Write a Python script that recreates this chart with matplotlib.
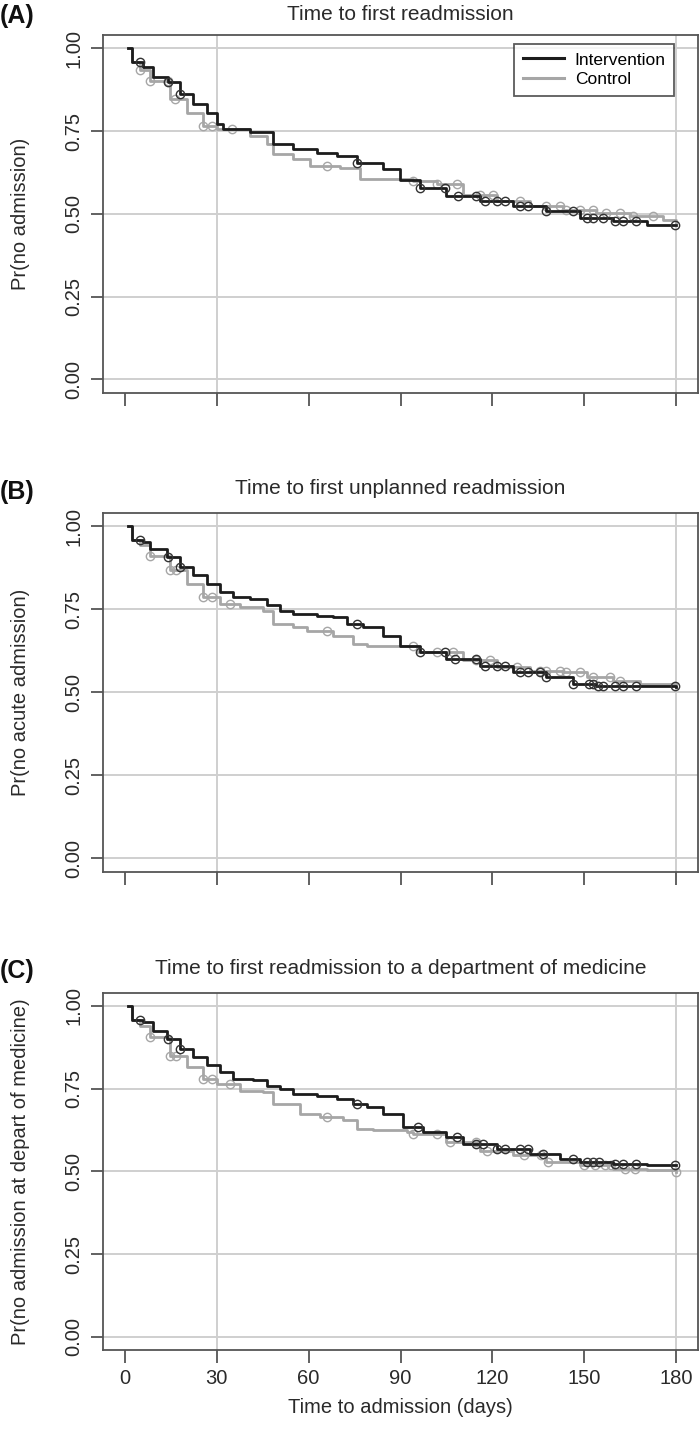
import numpy as np
import matplotlib
matplotlib.use("Agg")
import matplotlib.pyplot as plt

plt.rcParams['font.family'] = ['Liberation Sans', 'DejaVu Sans']

# ---- data (days, survival) ----
titles = ["Time to first readmission",
          "Time to first unplanned readmission",
          "Time to first readmission to a department of medicine"]
ylabels = ["Pr(no admission)",
           "Pr(no acute admission)",
           "Pr(no admission at depart of medicine)"]
panel_tags = ["(A)", "(B)", "(C)"]
series_names = ["Intervention", "Control"]
xticks = [0, 30, 60, 90, 120, 150, 180]
yticks = [0.00, 0.25, 0.50, 0.75, 1.00]

# panel A
a_int_t = [1, 2.2, 6, 9.2, 14.1, 18, 22.3, 26.7, 30, 32.1, 40.8, 48.4, 55, 62.6, 69.1, 75.7,
           84.4, 89.8, 96.3, 105, 115.9, 126.8, 137.7, 148.6, 159.5, 170.4, 180]
a_int_s = [1.0, 0.958, 0.943, 0.913, 0.897, 0.862, 0.832, 0.806, 0.771, 0.756, 0.746, 0.710,
           0.695, 0.685, 0.675, 0.655, 0.634, 0.601, 0.578, 0.553, 0.538, 0.523, 0.508, 0.488,
           0.477, 0.467, 0.467]
a_ctl_t = [1, 2.2, 5, 8.2, 14.7, 20.1, 25.6, 30, 40.8, 46.3, 48.4, 55, 60.4, 70.2, 76.7, 87.6,
           94.2, 101.8, 110.5, 121.4, 132.3, 143.1, 154, 164.9, 175.8, 180]
a_ctl_s = [1.0, 0.958, 0.935, 0.902, 0.847, 0.806, 0.766, 0.756, 0.735, 0.710, 0.680, 0.665,
           0.644, 0.639, 0.604, 0.604, 0.599, 0.589, 0.558, 0.538, 0.523, 0.513, 0.503, 0.493,
           0.482, 0.475]
a_int_cens = [4.9, 14.1, 18, 75.7, 96.3, 104.5, 108.9, 114.8, 117.6, 121.4, 124.1, 129, 131.7,
              137.7, 146.4, 150.8, 152.9, 156.2, 160, 162.7, 167.1, 179.6]
a_ctl_cens = [5, 8.2, 14, 16.3, 25.6, 28.3, 34.8, 65.9, 94.2, 101.8, 108.3, 115.9, 120.3, 129,
              137.7, 142, 144.2, 148.6, 152.9, 157.3, 161.6, 166, 172.6]

# panel B
b_int_t = [1, 2.2, 6, 8.2, 13.6, 18, 22.3, 26.7, 31, 35.4, 40.8, 46.3, 50.6, 55, 62.6, 68, 72.4,
           77.8, 84.4, 89.8, 96.3, 105, 115.9, 126.8, 137.7, 146.4, 154, 170.4, 180]
b_int_s = [1.0, 0.958, 0.953, 0.933, 0.908, 0.877, 0.852, 0.827, 0.802, 0.787, 0.782, 0.762,
           0.746, 0.736, 0.731, 0.727, 0.706, 0.696, 0.671, 0.641, 0.621, 0.601, 0.580, 0.560,
           0.545, 0.525, 0.518, 0.518, 0.515]
b_ctl_t = [1, 2.2, 5, 8.2, 14.7, 20.1, 25.6, 31, 37.6, 45.2, 48.4, 55, 59.3, 68, 74.6, 78.9, 92,
           95.3, 101.8, 110.5, 121.4, 132.3, 143.1, 150.8, 159.5, 168.2, 180]
b_ctl_s = [1.0, 0.958, 0.945, 0.912, 0.867, 0.827, 0.787, 0.767, 0.757, 0.746, 0.706, 0.696,
           0.686, 0.671, 0.646, 0.641, 0.641, 0.621, 0.621, 0.596, 0.576, 0.565, 0.560, 0.545,
           0.535, 0.525, 0.520]
b_int_cens = [5, 14, 18, 75.7, 96.3, 104.5, 107.9, 114.8, 117.6, 121.4, 124.1, 129, 131.7, 135.6,
              137.7, 146.4, 151.5, 152.9, 154.5, 156.2, 160, 162.7, 167.1, 179.6]
b_ctl_cens = [8.2, 14.7, 16.6, 25.6, 28.3, 34.4, 66, 94.2, 101.8, 107.3, 114.8, 119.2, 128, 135.6,
              137.7, 142, 144.2, 148.6, 152.9, 158.4, 161.6]

# panel C
c_int_t = [1, 2.2, 6, 9.2, 13.6, 18, 22.3, 26.7, 31, 35.4, 41.9, 46.3, 50.6, 55, 62.6, 69.1, 74.6,
           78.9, 84.4, 90.9, 97.4, 105, 110.5, 121.4, 132.3, 142, 148.6, 159.5, 170.4, 180]
c_int_s = [1.0, 0.956, 0.951, 0.925, 0.900, 0.870, 0.845, 0.820, 0.800, 0.780, 0.775, 0.759,
           0.749, 0.734, 0.729, 0.719, 0.704, 0.694, 0.674, 0.634, 0.619, 0.604, 0.583, 0.568,
           0.553, 0.538, 0.528, 0.523, 0.518, 0.518]
c_ctl_t = [1, 2.2, 5, 8.2, 14.7, 20.1, 25.6, 30, 37.6, 45.2, 48.4, 57.2, 63.7, 71.3, 75.7, 81.1,
           92, 94.2, 105, 116, 126.8, 137.7, 148.6, 159.5, 170.4, 180]
c_ctl_s = [1.0, 0.956, 0.940, 0.906, 0.850, 0.815, 0.780, 0.765, 0.744, 0.740, 0.704, 0.674,
           0.664, 0.654, 0.629, 0.624, 0.619, 0.614, 0.589, 0.563, 0.548, 0.528, 0.518, 0.508,
           0.503, 0.497]
c_int_cens = [5, 14, 18, 75.7, 95.8, 108.3, 114.8, 117, 121.4, 124.1, 129, 131.7, 136.6, 146.4,
              150.8, 152.9, 154.9, 160, 162.7, 167.1, 179.6]
c_ctl_cens = [8.2, 14.7, 16.6, 25.6, 28.3, 34.4, 66, 94.2, 101.8, 106.2, 114.8, 118.1, 130.5,
              135.9, 138.1, 150.1, 153.4, 156.7, 158.9, 163.3, 166.6, 180]

panels = [
    (a_int_t, a_int_s, a_int_cens, a_ctl_t, a_ctl_s, a_ctl_cens),
    (b_int_t, b_int_s, b_int_cens, b_ctl_t, b_ctl_s, b_ctl_cens),
    (c_int_t, c_int_s, c_int_cens, c_ctl_t, c_ctl_s, c_ctl_cens),
]

# ---- layout ----
W, H = 700, 1438
fig = plt.figure(figsize=(W / 100, H / 100), dpi=100)
boxes = [(35, 392.7), (513, 871.7), (992.7, 1350)]   # top/bottom of each box in px
left_px, right_px = 103, 698
title_y = [14, 489, 968]
tag_y = [16, 492, 971]

BLACK = "#1c1c1c"
GRAY = "#a6a6a6"
GRID = "#cfcfcf"
FRAME = "#555555"
TEXT = "#2a2a2a"


def step_value(t, s, x):
    i = np.searchsorted(np.asarray(t), x, side="right") - 1
    return np.asarray(s)[max(i, 0)]


for k, (it, is_, ic, ct, cs, cc) in enumerate(panels):
    top, bot = boxes[k]
    ax = fig.add_axes([left_px / W, 1 - bot / H, (right_px - left_px) / W, (bot - top) / H])
    ax.set_xlim(-7.2, 187.2)
    ax.set_ylim(-0.04, 1.04)

    for y in yticks:
        ax.axhline(y, color=GRID, lw=1.4, zorder=0)
    for x in (30, 180):
        ax.axvline(x, color=GRID, lw=1.4, zorder=0)

    ax.step(ct, cs, where="post", color=GRAY, lw=2.0, zorder=2)
    ax.plot(cc, [step_value(ct, cs, x) for x in cc], "o", mfc="none", mec=GRAY,
            ms=6, mew=1.0, zorder=2)
    ax.step(it, is_, where="post", color=BLACK, lw=2.0, zorder=3)
    ax.plot(ic, [step_value(it, is_, x) for x in ic], "o", mfc="none", mec="#333333",
            ms=6, mew=1.0, zorder=3)

    for sp in ax.spines.values():
        sp.set_color(FRAME)
        sp.set_linewidth(1.3)

    ax.set_xticks(xticks)
    ax.set_yticks(yticks)
    ax.set_yticklabels(["%.2f" % v for v in yticks], rotation=90, va="center")
    ax.tick_params(axis="both", length=9, width=1.3, color=FRAME, labelsize=14.5,
                   labelcolor=TEXT, pad=5)
    if k < 2:
        ax.set_xticklabels([])
    else:
        ax.set_xlabel("Time to admission (days)", fontsize=14.5, color=TEXT, labelpad=7)
    ax.set_ylabel(ylabels[k], fontsize=14.5, color=TEXT)
    ax.yaxis.set_label_coords(-(103 - 30) / (right_px - left_px), 0.5)

    fig.text((left_px + right_px) / 2 / W, 1 - title_y[k] / H, titles[k], ha="center",
             va="center", fontsize=15, color=TEXT)
    fig.text(0, 1 - tag_y[k] / H, panel_tags[k], ha="left", va="center",
             fontsize=18, fontweight="bold", color="#111111")

    if k == 0:
        leg = ax.legend([plt.Line2D([], [], color=BLACK, lw=2.2),
                         plt.Line2D([], [], color=GRAY, lw=2.2)],
                        series_names, loc="upper right", bbox_to_anchor=(0.975, 1.0),
                        fontsize=12.5, frameon=True, fancybox=False, handlelength=2.4,
                        borderpad=0.5, labelspacing=0.25, handletextpad=0.6)
        leg.get_frame().set_edgecolor("#333333")
        leg.get_frame().set_linewidth(1.3)

fig.savefig("out.png", dpi=100)
